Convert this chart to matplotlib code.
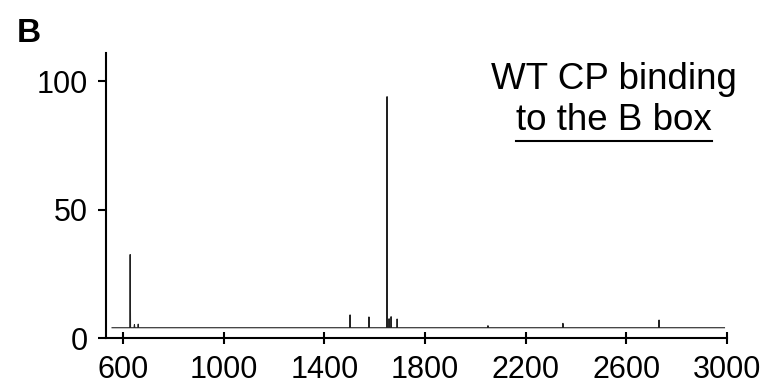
import matplotlib
matplotlib.use("Agg")
import matplotlib.pyplot as plt
from matplotlib.lines import Line2D

plt.rcParams['font.family'] = ['Liberation Sans', 'DejaVu Sans']

# data (m/z, relative intensity)
baseline_level = 4.0
mz_start, mz_end = 556, 2990
peak_mz = [628, 645, 660, 1502, 1577, 1649, 1657, 1665, 1689, 2050, 2348, 2730]
peak_int = [32.5, 5.2, 5.4, 9.0, 8.2, 94.0, 7.5, 8.3, 7.4, 4.8, 5.7, 7.0]
x_ticks = [600, 1000, 1400, 1800, 2200, 2600, 3000]
y_ticks = [0, 50, 100]

# build stick spectrum from peak list
xs = [mz_start]
ys = [baseline_level]
for m, h in zip(peak_mz, peak_int):
    xs += [m - 1.5, m, m + 1.5]
    ys += [baseline_level, h, baseline_level]
xs.append(mz_end)
ys.append(baseline_level)

fig = plt.figure(figsize=(7.68, 3.85), dpi=100)
ax = fig.add_axes([106 / 768, 1 - 338 / 385, (727 - 106) / 768, (338 - 53) / 385])
ax.plot(xs, ys, color='#222222', lw=0.8)

ax.set_xlim(532, 3000)
ax.set_ylim(0, 111)
ax.set_xticks(x_ticks)
ax.set_yticks(y_ticks)
ax.tick_params(axis='x', direction='inout', length=9, width=1.5, pad=8, labelsize=22)
ax.tick_params(axis='y', direction='out', length=6, width=1.5, pad=7, labelsize=22)
for s in ['top', 'right']:
    ax.spines[s].set_visible(False)
for s in ['left', 'bottom']:
    ax.spines[s].set_linewidth(1.5)

fig.text(17 / 768, 1 - 42 / 385, 'B', fontsize=24, fontweight='bold', ha='left', va='baseline')
t1 = fig.text(614 / 768, 1 - 89 / 385, 'WT CP binding', fontsize=26.5, ha='center', va='baseline')
t2 = fig.text(614 / 768, 1 - 130 / 385, 'to the B box', fontsize=26.5, ha='center', va='baseline')

fig.canvas.draw()
bb = t2.get_window_extent(fig.canvas.get_renderer())
uy = (bb.y0 - 3) / fig.bbox.height
fig.add_artist(Line2D([bb.x0 / fig.bbox.width, bb.x1 / fig.bbox.width], [uy, uy],
                      transform=fig.transFigure, color='black', lw=1.5))

fig.savefig('out.png', dpi=100)
